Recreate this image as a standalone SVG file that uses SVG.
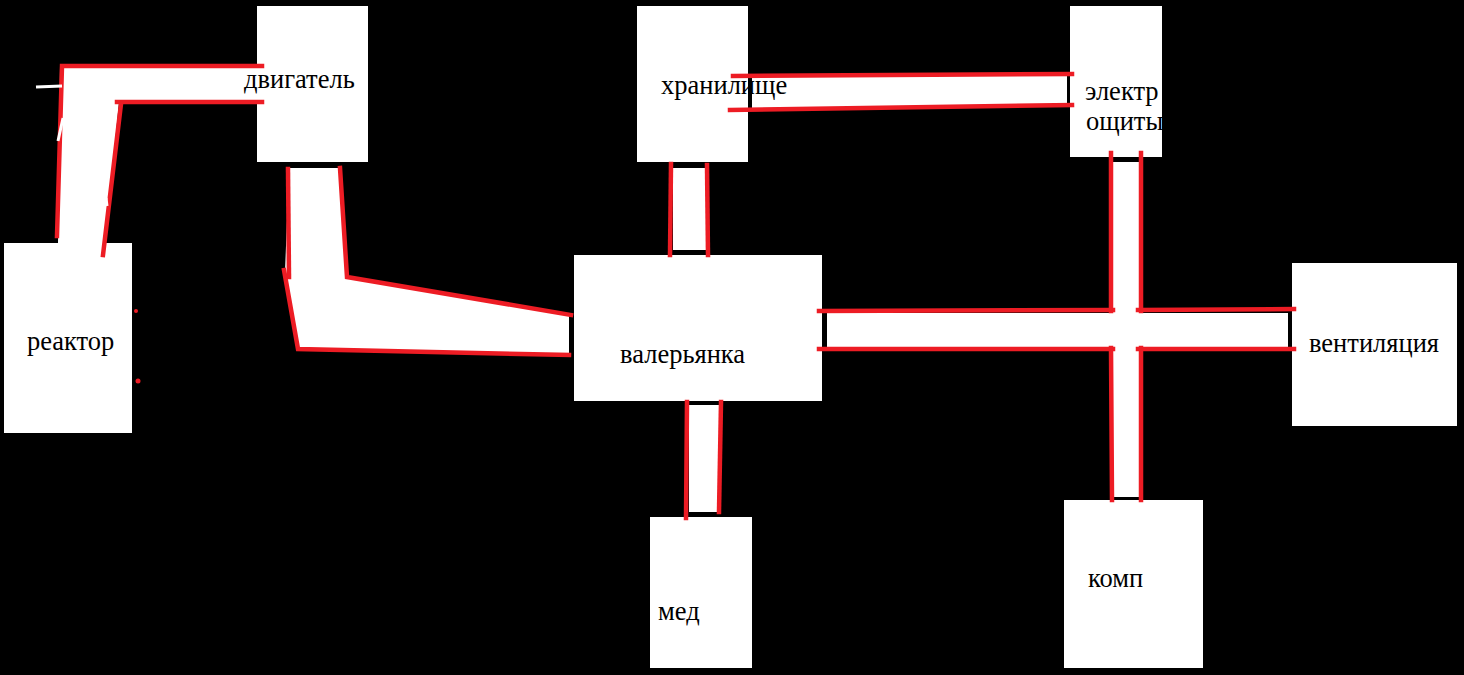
<svg xmlns="http://www.w3.org/2000/svg" width="1464" height="675" viewBox="0 0 1464 675">
<style>
.box{fill:#ffffff}
.lbl{font-family:"Liberation Serif","Times New Roman",serif;font-size:26.5px;fill:#000000}
.fill{fill:#ffffff;stroke:none}
.wall{fill:none;stroke:#ED1C24;stroke-width:4.5;stroke-linecap:square}
.mark{fill:none;stroke:#ffffff;stroke-width:3}
</style>
<rect x="0" y="0" width="1464" height="675" fill="#000000"/>
<g id="corridors">
  <polygon class="fill" points="60,66 257,66 257,101 119,102 105,243 58,243"/>
  <polygon class="fill" points="289,168 340,168 347,277 569,315 569,355 298,349 285,272"/>
  <rect class="fill" x="673" y="168" width="33" height="82"/>
  <rect class="fill" x="689" y="405" width="30" height="107"/>
  <polygon class="fill" points="752,77 1067,75 1067,105 752,108"/>
  <rect class="fill" x="827" y="313" width="461" height="34"/>
  <rect class="fill" x="1113" y="162" width="26" height="335"/>
</g>
<g id="reactor">
  <rect class="box" x="4" y="243" width="128" height="190"/>
  <text class="lbl" x="27" y="350">реактор</text>
</g>
<g id="engine">
  <rect class="box" x="257" y="6" width="111" height="156"/>
  <text class="lbl" x="244" y="88">двигатель</text>
</g>
<g id="storage">
  <rect class="box" x="637" y="6" width="111" height="156"/>
  <text class="lbl" x="661" y="94">хранилище</text>
</g>
<g id="electro">
  <rect class="box" x="1070" y="6" width="92" height="151"/>
  <text class="lbl" x="1085" y="100">электр</text>
  <text class="lbl" x="1086" y="130">ощиты</text>
</g>
<g id="valerianka">
  <rect class="box" x="574" y="255" width="248" height="146"/>
  <text class="lbl" x="620" y="363">валерьянка</text>
</g>
<g id="ventilation">
  <rect class="box" x="1292" y="263" width="165" height="163"/>
  <text class="lbl" x="1309" y="352">вентиляция</text>
</g>
<g id="med">
  <rect class="box" x="650" y="517" width="102" height="151"/>
  <text class="lbl" x="658" y="620">мед</text>
</g>
<g id="comp">
  <rect class="box" x="1064" y="500" width="139" height="168"/>
  <text class="lbl" x="1088" y="587">комп</text>
</g>
<g id="connectors">
  <!-- reactor - engine -->
  <path class="wall" d="M57,236 L62,66 L262,66"/>
  <path class="wall" d="M117,102 L262,102"/>
  <path class="wall" d="M121,104 L103,255"/>
  <path class="mark" d="M36,87 L62,86"/>
  <path class="mark" d="M58,141 L63,118"/>
  <path class="mark" d="M106,198 L107,206"/>
  <circle cx="136" cy="311" r="2" fill="#ED1C24"/>
  <circle cx="138" cy="381" r="2.5" fill="#ED1C24"/>
  <!-- engine - valerianka -->
  <path class="wall" d="M288,169 L289,277"/>
  <path class="wall" d="M284,270 L298,349 L569,355"/>
  <path class="wall" d="M340,168 L347,277 L571,315"/>
  <!-- storage - valerianka -->
  <path class="wall" d="M671,164 L670,255"/>
  <path class="wall" d="M707,165 L708,255"/>
  <!-- valerianka - med -->
  <path class="wall" d="M687,402 L686,518"/>
  <path class="wall" d="M721,402 L719,512"/>
  <!-- storage - electro -->
  <path class="wall" d="M733,76 L1072,74"/>
  <path class="wall" d="M730,110 L1072,105"/>
  <!-- valerianka - ventilation / electro - comp cross -->
  <path class="wall" d="M819,311 L1113,310"/>
  <path class="wall" d="M1138,310 L1294,309"/>
  <path class="wall" d="M819,349 L1113,349"/>
  <path class="wall" d="M1138,349 L1294,349"/>
  <path class="wall" d="M1111,153 L1111,311"/>
  <path class="wall" d="M1141,153 L1141,311"/>
  <path class="wall" d="M1111,348 L1112,500"/>
  <path class="wall" d="M1141,348 L1141,500"/>
</g>
</svg>
